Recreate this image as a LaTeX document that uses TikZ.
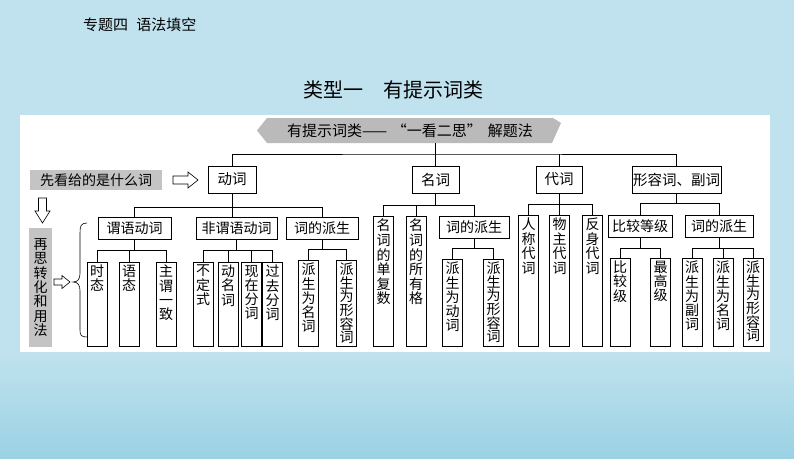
\documentclass[tikz,border=0pt]{standalone}
\usepackage{fontspec}
\setmainfont{Noto Sans CJK SC}
\definecolor{bgblue}{HTML}{C0E2EE}
\definecolor{bgdeep}{HTML}{9AD2E4}
\definecolor{grayfill}{HTML}{C4C4C4}
\definecolor{bannergray}{HTML}{BABABA}
\newcommand{\leafnode}[5]{%
  \node[leafbox,anchor=north] (#1) at (#2,#3)
    {\parbox[c][\dimexpr 340pt-#3pt\relax][t]{14pt}{\centering\fontsize{14pt}{#4pt}\selectfont #5}};}
\begin{document}
\begin{tikzpicture}[x=1pt,y=-1pt,
  every node/.style={inner sep=0pt, outer sep=0pt},
  topbox/.style={draw=black, line width=0.7pt, fill=white, minimum height=27pt,
    font=\fontsize{14.5pt}{14.5pt}\selectfont},
  midbox/.style={draw=black, line width=0.7pt, fill=white, minimum height=22pt,
    font=\fontsize{14pt}{14pt}\selectfont},
  leafbox/.style={draw=black, line width=0.7pt, fill=white, inner xsep=3pt, inner ysep=3pt},
  conn/.style={draw=black, line width=0.7pt},
  hollow/.style={draw=black, line width=0.6pt, fill=white, line join=miter},
  graybox/.style={fill=grayfill, font=\fontsize{14pt}{14.3pt}\selectfont}]
\useasboundingbox (0,0) rectangle (794,458);
% background
\fill[bgblue] (0,0) rectangle (794,458);
\shade[top color=bgblue, bottom color=bgdeep] (0,352) rectangle (794,458);
\fill[white] (20,115) rectangle (770,352);
% header and title
\node[font=\fontsize{15pt}{15pt}\selectfont, anchor=west] (hdr) at (83,25) {专题四\hspace{0.55em}语法填空};
\node[font=\fontsize{20pt}{20pt}\selectfont, anchor=west] (title) at (303,90) {类型一\hspace{1em}有提示词类};
% banner
\fill[bannergray] (267,118) -- (553,118) -- (561,123) -- (552,143) -- (267,143) -- (257,130.5) -- cycle;
\node[font=\fontsize{15pt}{15pt}\selectfont, minimum width=290pt, minimum height=25pt] (banner) at (410,130.5)
  {有提示词类——\hspace{0.3em}“一看二思”\hspace{0.4em}解题法};
% left side
\node[graybox, minimum width=132pt, minimum height=20pt] (kan) at (96,180) {先看给的是什么词};
\node[graybox, minimum width=23pt, minimum height=119pt, align=center] (si) at (40.5,287.5)
  {再\\思\\转\\化\\和\\用\\法};
% hollow arrows
\draw[hollow] (173,176) -- (188,176) -- (188,172) -- (198,180) -- (188,188) -- (188,184) -- (173,184) -- cycle;
\draw[hollow] (38.5,198) -- (46.5,198) -- (46.5,211) -- (50,211) -- (42.5,223) -- (35,211) -- (38.5,211) -- cycle;
\draw[hollow] (54,279) -- (62,279) -- (62,275.5) -- (70,282) -- (62,288.5) -- (62,285) -- (54,285) -- cycle;
% brace
\draw[line width=0.6pt] (87,223) .. controls (81,223) and (80,226) .. (80,233) -- (80,273)
  .. controls (80,279) and (78,282) .. (73,282) .. controls (78,282) and (80,285) .. (80,291)
  -- (80,330) .. controls (80,335) and (81,337) .. (87,337);
% row 1
\node[topbox, minimum width=48pt] (dongci) at (232,179.5) {动词};
\node[topbox, minimum width=47pt] (mingci) at (435.5,179.5) {名词};
\node[topbox, minimum width=46pt] (daici) at (559,179.5) {代词};
\node[topbox, minimum width=89pt] (xrc) at (676.5,179.5) {形容词、副词};
% row 2
\node[midbox, minimum width=73pt] (vp) at (134.5,228) {谓语动词};
\node[midbox, minimum width=81pt] (fwy) at (236.5,228) {非谓语动词};
\node[midbox, minimum width=72pt] (vd) at (322,228) {词的派生};
\node[midbox, minimum width=70pt] (nd) at (474,227) {词的派生};
\node[midbox, minimum width=64pt] (cmp) at (640,226.5) {比较等级};
\node[midbox, minimum width=68pt] (ad) at (719,226.5) {词的派生};
% leaves
\leafnode{l1}{97}{262}{14.3}{时\\态}
\leafnode{l2}{129}{262}{14.3}{语\\态}
\leafnode{l3}{166}{262}{14.3}{主\\谓\\一\\致}
\leafnode{l4}{203}{262}{14.3}{不\\定\\式}
\leafnode{l5}{228}{262}{14.3}{动\\名\\词}
\leafnode{l6}{251.5}{262}{14.3}{现\\在\\分\\词}
\leafnode{l7}{272.5}{262}{14.3}{过\\去\\分\\词}
\leafnode{l8}{308.5}{260}{14.3}{派\\生\\为\\名\\词}
\leafnode{l9}{346.5}{260}{13.6}{派\\生\\为\\形\\容\\词}
\leafnode{n1}{383.5}{216}{14.6}{名\\词\\的\\单\\复\\数}
\leafnode{n2}{416}{216}{14.6}{名\\词\\的\\所\\有\\格}
\leafnode{n3}{452.5}{259}{14.3}{派\\生\\为\\动\\词}
\leafnode{n4}{493.5}{259}{13.6}{派\\生\\为\\形\\容\\词}
\leafnode{p1}{528.5}{215}{14.6}{人\\称\\代\\词}
\leafnode{p2}{559.5}{215}{14.6}{物\\主\\代\\词}
\leafnode{p3}{592.5}{215}{14.6}{反\\身\\代\\词}
\leafnode{a1}{620}{258}{14.3}{比\\较\\级}
\leafnode{a2}{660.5}{258}{14.3}{最\\高\\级}
\leafnode{a3}{692}{258}{14.3}{派\\生\\为\\副\\词}
\leafnode{a4}{723}{258}{14.3}{派\\生\\为\\名\\词}
\leafnode{a5}{753}{258}{13.6}{派\\生\\为\\形\\容\\词}
% bus coordinates
\coordinate (topbus) at (450,154);
\coordinate (vbus) at (0,207);
\coordinate (nbus) at (0,205);
\coordinate (pbus) at (0,204);
\coordinate (abus) at (0,203);
\coordinate (vpbus) at (0,250);
\coordinate (fwbus) at (0,250);
\coordinate (vdbus) at (0,249);
\coordinate (ndbus) at (0,248);
\coordinate (cmbus) at (0,248);
\coordinate (adbus) at (0,248);
% top connectors
\draw[conn] (dongci.north) |- (topbus) -| (xrc.north);
\draw[conn] (mingci.north) -- (mingci.north |- banner.south);
\draw[conn] (daici.north) -- (daici.north |- topbus);
% verb
\draw[conn] (vp.north) |- (vd.north |- vbus) -- (vd.north);
\draw[conn] (dongci.south) -- (dongci.south |- fwy.north);
% noun
\draw[conn] (n1.north) |- (nd.north |- nbus) -- (nd.north);
\draw[conn] (mingci.south) -- (mingci.south |- nbus);
\draw[conn] (n2.north) -- (n2.north |- nbus);
% pronoun
\draw[conn] (p1.north) |- (p3.north |- pbus) -- (p3.north);
\draw[conn] (daici.south) -- (daici.south |- pbus);
\draw[conn] (p2.north) -- (p2.north |- pbus);
% adjective
\draw[conn] (cmp.north) |- (ad.north |- abus) -- (ad.north);
\draw[conn] (xrc.south) -- (xrc.south |- abus);
% second level
\draw[conn] (l1.north) |- (l3.north |- vpbus) -- (l3.north);
\draw[conn] (vp.south) -- (vp.south |- vpbus);
\draw[conn] (l2.north) -- (l2.north |- vpbus);
\draw[conn] (l4.north) |- (l7.north |- fwbus) -- (l7.north);
\draw[conn] (fwy.south) -- (fwy.south |- fwbus);
\draw[conn] (l5.north) -- (l5.north |- fwbus);
\draw[conn] (l6.north) -- (l6.north |- fwbus);
\draw[conn] (l8.north) |- (l9.north |- vdbus) -- (l9.north);
\draw[conn] (vd.south) -- (vd.south |- vdbus);
\draw[conn] (n3.north) |- (n4.north |- ndbus) -- (n4.north);
\draw[conn] (nd.south) -- (nd.south |- ndbus);
\draw[conn] (a1.north) |- (a2.north |- cmbus) -- (a2.north);
\draw[conn] (cmp.south) -- (cmp.south |- cmbus);
\draw[conn] (a3.north) |- (a5.north |- adbus) -- (a5.north);
\draw[conn] (ad.south) -- (ad.south |- adbus);
\draw[conn] (a4.north) -- (a4.north |- adbus);
\end{tikzpicture}
\end{document}
